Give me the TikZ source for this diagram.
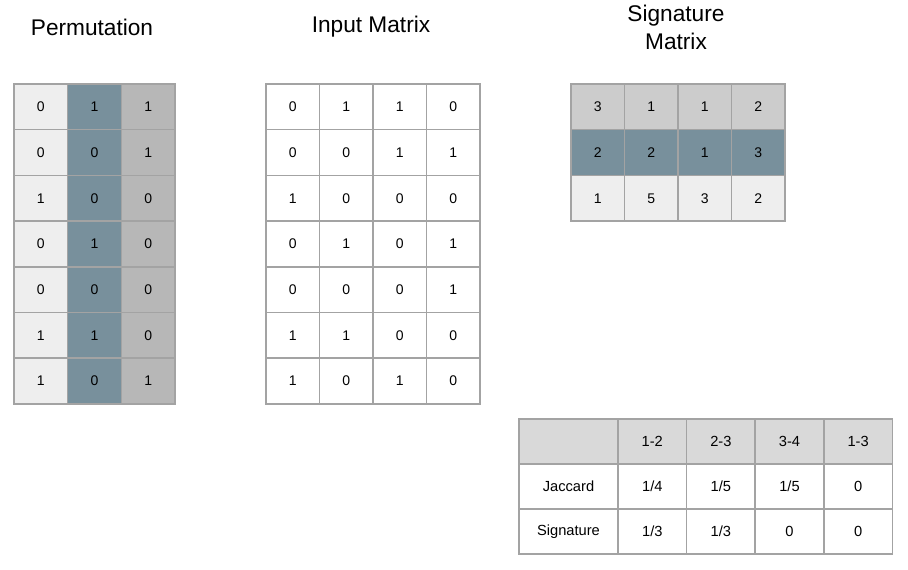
\documentclass[tikz,border=0pt]{standalone}
\usepackage{fontspec}
\setmainfont{Liberation Sans}
\definecolor{lg}{HTML}{EEEEEE}
\definecolor{sl}{HTML}{78909C}
\definecolor{mg}{HTML}{B7B7B7}
\definecolor{tg}{HTML}{CCCCCC}
\definecolor{hg}{HTML}{D9D9D9}
\definecolor{bd}{HTML}{A3A3A3}
\begin{document}
\begin{tikzpicture}[x=0.75pt,y=-0.75pt,
  cellbox/.style={draw=bd, line width=1.1pt, anchor=north west, inner sep=0pt, outer sep=0pt,
    font=\fontsize{10.5}{12}\selectfont, minimum height=34.275pt},
  tcell/.style={cellbox, font=\fontsize{11}{13}\selectfont, minimum height=33.75pt},
  title/.style={font=\fontsize{17}{21}\selectfont, align=center}]
\useasboundingbox (0,0) rectangle (908,569);
% titles
\node[title] (t1) at (92,27) {Permutation};
\node[title] (t2) at (371,27) {Input Matrix};
\node[title] (t3) at (676,27.5) {Signature\\Matrix};
% permutation
\foreach \row [count=\r from 0] in {{0/lg,1/sl,1/mg},{0/lg,0/sl,1/mg},{1/lg,0/sl,0/mg},{0/lg,1/sl,0/mg},{0/lg,0/sl,0/mg},{1/lg,1/sl,0/mg},{1/lg,0/sl,1/mg}}{
  \foreach \v/\f [count=\c from 0] in \row {
    \node[cellbox, fill=\f, minimum width=40.275pt] (p-\r-\c) at ({14+53.7*\c},{84+45.7*\r}) {\v};
  }
}
% input matrix
\foreach \row [count=\r from 0] in {{0,1,1,0},{0,0,1,1},{1,0,0,0},{0,1,0,1},{0,0,0,1},{1,1,0,0},{1,0,1,0}}{
  \foreach \v [count=\c from 0] in \row {
    \node[cellbox, fill=white, minimum width=40.125pt] (m-\r-\c) at ({266+53.5*\c},{84+45.7*\r}) {\v};
  }
}
% signature matrix
\foreach \row/\f [count=\r from 0] in {{3,1,1,2}/tg,{2,2,1,3}/sl,{1,5,3,2}/lg}{
  \foreach \v [count=\c from 0] in \row {
    \node[cellbox, fill=\f, minimum width=40.125pt] (s-\r-\c) at ({571+53.5*\c},{84+45.7*\r}) {\v};
  }
}
% comparison table
\foreach \lab/\f [count=\r from 0] in {{}/hg,Jaccard/white,Signature/white}{
  \node[tcell, fill=\f, minimum width=74.25pt] (c-\r-0) at (519,{419+45*\r}) {\lab};
}
\foreach \row/\f [count=\r from 0] in {{1-2,2-3,3-4,1-3}/hg,{1/4,1/5,1/5,0}/white,{1/3,1/3,0,0}/white}{
  \foreach \v [count=\c from 1] in \row {
    \node[tcell, fill=\f, minimum width=51.45pt] (c-\r-\c) at ({618+68.6*(\c-1)},{419+45*\r}) {\v};
  }
}
\end{tikzpicture}
\end{document}
